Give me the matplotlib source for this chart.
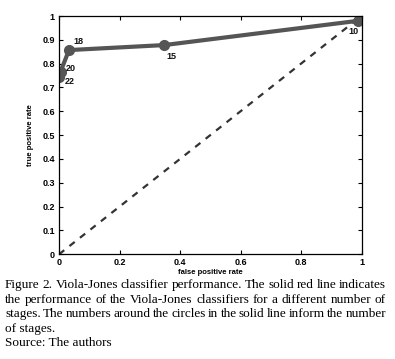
import matplotlib.pyplot as plt

# stages of the Viola-Jones cascade and their (fpr, tpr)
stages = ['22', '20', '18', '15', '10']
fpr = [0.0, 0.005, 0.033, 0.348, 0.99]
tpr = [0.745, 0.766, 0.857, 0.878, 0.98]
# label offsets in points
offsets = [(4, -3.5), (4, 2.5), (3, 6.5), (1.5, -8), (-7, -8)]

ticks = [0, 0.2, 0.4, 0.6, 0.8, 1]
yticks = [0, 0.1, 0.2, 0.3, 0.4, 0.5, 0.6, 0.7, 0.8, 0.9, 1]

caption = [
    "Figure 2. Viola-Jones classifier performance. The solid red line indicates",
    "the performance of the Viola-Jones classifiers for a different number of",
    "stages. The numbers around the circles in the solid line inform the number",
    "of stages.",
    "Source: The authors",
]

fig = plt.figure(figsize=(3.95, 3.59), dpi=100)
ax = fig.add_axes([59 / 395, 1 - 254.3 / 359, 302.5 / 395, 238.3 / 359])

ax.plot([0, 1], [0, 1], color='#333333', linestyle='--', linewidth=1.6, dashes=(3, 3))
ax.plot(fpr, tpr, color='#555555', linewidth=3, marker='o', markersize=7,
        solid_capstyle='round')
for s, x, y, off in zip(stages, fpr, tpr, offsets):
    ax.annotate(s, (x, y), xytext=off, textcoords='offset points',
                fontsize=6.5, fontweight='bold', color='#111111',
                ha='left', va='center', fontfamily='Liberation Sans')

ax.set_xlim(0, 1)
ax.set_ylim(0, 1)
ax.set_xticks(ticks)
ax.set_xticklabels(['0', '0.2', '0.4', '0.6', '0.8', '1'])
ax.set_yticks(yticks)
ax.set_yticklabels(['0', '0.1', '0.2', '0.3', '0.4', '0.5', '0.6', '0.7', '0.8', '0.9', '1'])
ax.tick_params(direction='in', top=True, right=True, length=3, width=0.8,
               labelsize=6.5, pad=3)
for lab in ax.get_xticklabels() + ax.get_yticklabels():
    lab.set_fontweight('bold')
    lab.set_fontfamily('Liberation Sans')
for sp in ax.spines.values():
    sp.set_linewidth(0.9)

ax.set_xlabel('false positive rate', fontsize=5.5, fontweight='bold',
              fontfamily='Liberation Sans', labelpad=1)
ax.set_ylabel('true positive rate', fontsize=5.5, fontweight='bold',
              fontfamily='Liberation Sans', labelpad=6)

# caption, justified by spreading words across the line width
renderer = fig.canvas.get_renderer()
left, right = 5, 386
y0 = 285
fs = 9.5
for i, line in enumerate(caption):
    y = 1 - (y0 + i * 14.6) / 359
    words = line.split(' ')
    if i >= 3:
        fig.text(left / 395, y, line, fontsize=fs, fontfamily='Liberation Serif',
                 va='center', ha='left')
        continue
    items = []
    total = 0
    for w in words:
        t = fig.text(0, y, w, fontsize=fs, fontfamily='Liberation Serif',
                     va='center', ha='left')
        wd = t.get_window_extent(renderer).width
        items.append((t, wd))
        total += wd
    gap = (right - left - total) / (len(words) - 1)
    x = left
    for t, wd in items:
        t.set_x(x / 395)
        x += wd + gap

fig.savefig('out.png', dpi=100)
